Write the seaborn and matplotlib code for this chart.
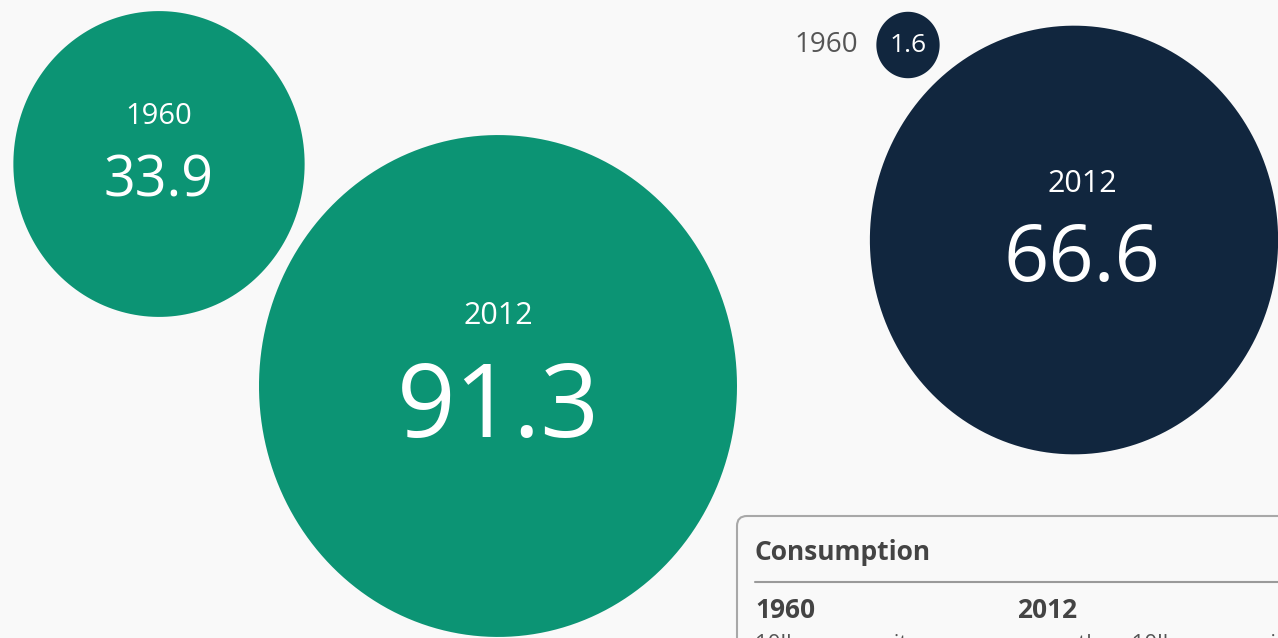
import numpy as np
import pandas as pd
import matplotlib
matplotlib.use("Agg")
import matplotlib.pyplot as plt
from matplotlib.path import Path
from matplotlib.patches import FancyBboxPatch
import seaborn as sns

# Per-capita consumption, two products, two years
groups = ["green", "green", "navy", "navy"]
years = ["1960", "2012", "2012", "1960"]
values = [33.9, 91.3, 66.6, 1.6]

# bubble centres in pixel space (x from left, y from top)
cx = [159, 498, 1074, 908]
cy = [164, 386, 240, 45]

GREEN = "#0C9474"
NAVY = "#11263E"
BG = "#F9F9F9"
FONT = ["Open Sans", "DejaVu Sans"]

sns.set_theme(style="white")
plt.rcParams["font.family"] = FONT

W, H, DPI = 1278, 638, 100
fig = plt.figure(figsize=(W / DPI, H / DPI), dpi=DPI, facecolor=BG)
ax = fig.add_axes([0, 0, 1, 1])
ax.set_facecolor(BG)
ax.set_xlim(0, W)
ax.set_ylim(H, 0)
ax.axis("off")

df = pd.DataFrame({"x": cx, "y": cy, "value": values, "group": groups, "year": years})

# slightly tall ellipse marker; area proportional to value
t = np.linspace(0, 2 * np.pi, 200)
stretch = 1.05
blob = Path(np.column_stack([np.cos(t) / stretch, np.sin(t)]))
vmax = max(values)
r_top = 239 * stretch  # vertical radius of the largest bubble, px
s_max = (2 * r_top * 72 / DPI) ** 2

sns.scatterplot(data=df, x="x", y="y", size="value", sizes=(0, s_max),
                size_norm=(0, vmax), hue="group",
                palette={"green": GREEN, "navy": NAVY},
                marker=blob, linewidth=0, edgecolor="none",
                legend=False, ax=ax, zorder=2)

# labels inside the bubbles: (dx, year dy, year size, value dy, value size)
label_style = {
    0: (0, -52, 21, 10, 40),
    1: (0, -74, 22, 16, 74),
    2: (8, -60, 22, 12, 57),
}
for i, row in df.iterrows():
    if i in label_style:
        dx, ydy, ysz, vdy, vsz = label_style[i]
        ax.text(row.x + dx, row.y + ydy + 4, row.year, color="white",
                fontsize=ysz, ha="center", va="center", zorder=3)
        ax.text(row.x + dx, row.y + vdy + 8, f"{row.value:.1f}", color="white",
                fontsize=vsz, ha="center", va="center", zorder=3)
    else:
        ax.text(row.x, row.y, f"{row.value:.1f}", color="white",
                fontsize=19, ha="center", va="center", zorder=3)
        ax.text(row.x - 50, row.y, row.year, color="#555555",
                fontsize=20, ha="right", va="center", zorder=3)

# key panel in the lower right
box = FancyBboxPatch((737, 516), 600, 200,
                     boxstyle="round,pad=0,rounding_size=10",
                     facecolor=BG, edgecolor="#A8A8A8", linewidth=1.5, zorder=4)
ax.add_patch(box)
ax.text(755, 552, "Consumption", fontsize=19, fontweight="bold",
        color="#444444", ha="left", va="center", zorder=5)
ax.plot([755, 1290], [582, 582], color="#9A9A9A", linewidth=1.5, zorder=5)
ax.text(755, 610, "1960", fontsize=19, fontweight="bold",
        color="#444444", ha="left", va="center", zorder=5)
ax.text(1017, 610, "2012", fontsize=19, fontweight="bold",
        color="#444444", ha="left", va="center", zorder=5)
ax.text(755, 650, "10lbs per capita", fontsize=16, color="#555555",
        ha="left", va="baseline", zorder=5)
ax.text(1017, 650, "more than 10lbs per capita", fontsize=16, color="#555555",
        ha="left", va="baseline", zorder=5)

fig.savefig("out.png", dpi=DPI, facecolor=BG)
